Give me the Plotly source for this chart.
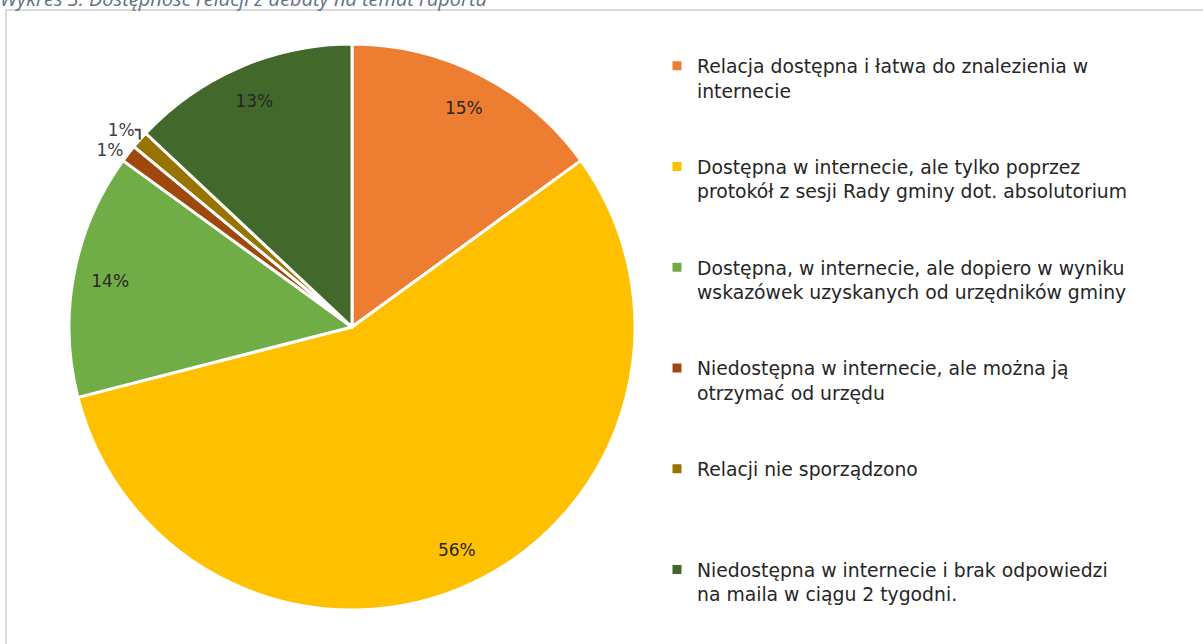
import plotly.graph_objects as go

# ---------------------------------------------------------------------------
# Data
# ---------------------------------------------------------------------------
categories = [
    "Relacja dostępna i łatwa do znalezienia w<br>internecie",
    "Dostępna w internecie, ale tylko poprzez<br>protokół z sesji Rady gminy dot. absolutorium",
    "Dostępna, w internecie, ale dopiero w wyniku<br>wskazówek uzyskanych od urzędników gminy",
    "Niedostępna w internecie, ale można ją<br>otrzymać od urzędu",
    "Relacji nie sporządzono",
    "Niedostępna w internecie i brak odpowiedzi<br>na maila w ciągu 2 tygodni.",
]
shares = [15, 56, 14, 1, 1, 13]
colors = ["#ED7D31", "#FFC000", "#70AD47", "#9E480E", "#997300", "#43682B"]

TITLE = "Wykres 3. Dostępność relacji z debaty na temat raportu"
FONT = "DejaVu Sans, sans-serif"
W, H = 1203, 644

# pad legend entries so each one takes the same vertical slot
legend_labels = []
for i, c in enumerate(categories):
    n_lines = c.count("<br>") + 1
    pad = 0 if i == len(categories) - 1 else 4 - n_lines
    legend_labels.append(c + "<br> " * pad)

text_pos = ["inside" if v >= 5 else "outside" for v in shares]
pie_domain = dict(x=[69 / W, 635 / W], y=[34 / H, 600 / H])

fig = go.Figure()

# coloured slices, legend
fig.add_trace(go.Pie(
    labels=legend_labels,
    values=shares,
    sort=False,
    direction="clockwise",
    rotation=0,
    marker=dict(colors=colors, line=dict(color="white", width=3)),
    textinfo="none",
    domain=pie_domain,
    hovertemplate="%{label}: %{value}%<extra></extra>",
))

# transparent ring on top, only to push the % labels towards the rim
fig.add_trace(go.Pie(
    labels=legend_labels,
    values=shares,
    sort=False,
    direction="clockwise",
    rotation=0,
    hole=0.74,
    showlegend=False,
    hoverinfo="skip",
    marker=dict(colors=["rgba(0,0,0,0)"] * len(shares), line=dict(width=0)),
    texttemplate="%{percent:.0%}",
    textposition=text_pos,
    insidetextorientation="horizontal",
    textfont=dict(family=FONT, size=17, color="#262626"),
    outsidetextfont=dict(family=FONT, size=17, color="#404040"),
    domain=pie_domain,
))

fig.update_layout(
    width=W,
    height=H,
    margin=dict(l=0, r=0, t=0, b=0),
    paper_bgcolor="white",
    font=dict(family=FONT, color="#262626"),
    showlegend=True,
    legend=dict(
        x=657 / W, xanchor="left",
        y=1 - 47 / H, yanchor="top",
        valign="top",
        font=dict(family=FONT, size=18.8, color="#262626"),
        bgcolor="rgba(0,0,0,0)",
    ),
    shapes=[dict(
        type="rect", xref="paper", yref="paper",
        x0=6 / W, x1=1.02, y0=-0.02, y1=1 - 10 / H,
        line=dict(color="#D9D9D9", width=2),
        fillcolor="rgba(0,0,0,0)", layer="below",
    )],
    annotations=[dict(
        text=f"<i>{TITLE}</i>",
        xref="paper", yref="paper",
        x=-2 / W, xanchor="left",
        y=1, yanchor="bottom", yshift=-14,
        showarrow=False,
        font=dict(family="Open Sans, sans-serif", size=20, color="#5F7286"),
    )],
)

fig.write_html(
    "out.html",
    config={"displayModeBar": False},
    post_script="document.body.style.margin='0';",
)
